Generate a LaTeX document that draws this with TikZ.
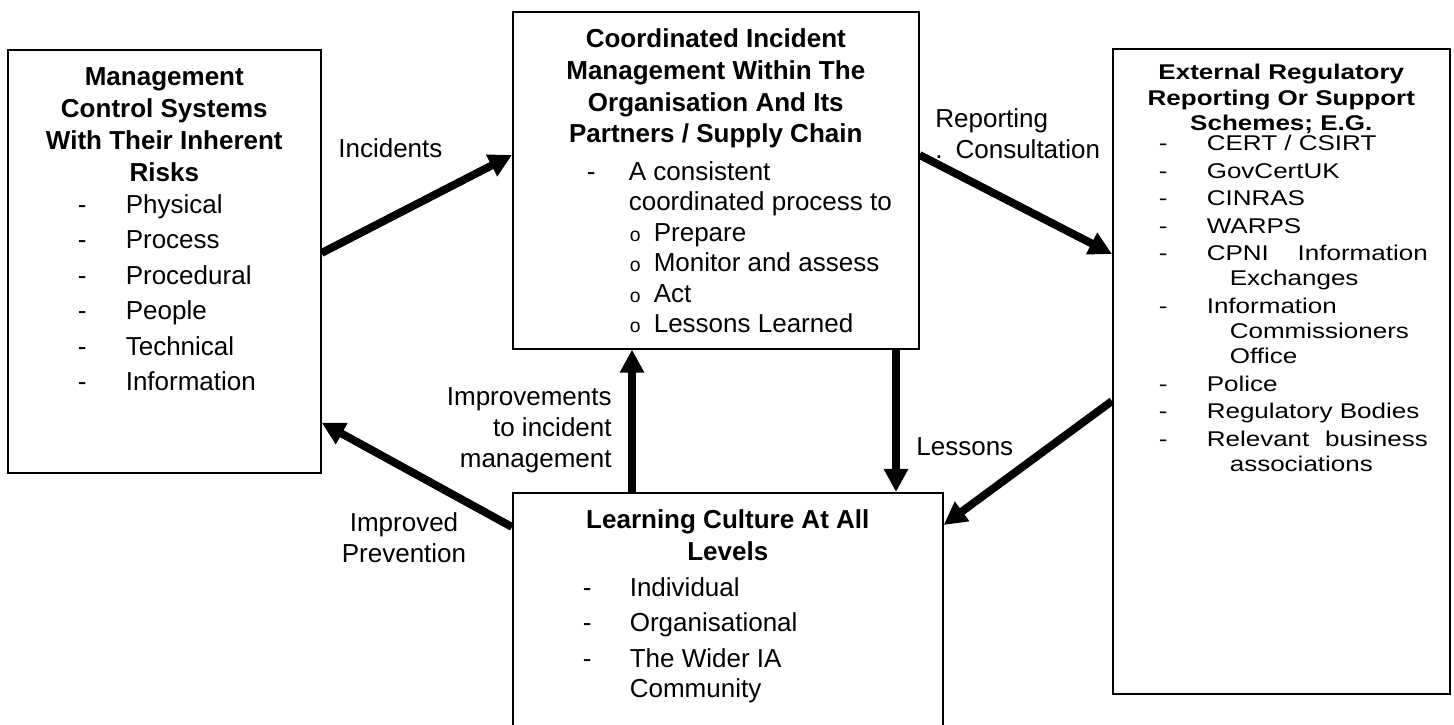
\documentclass[tikz,border=0pt]{standalone}
\usepackage{fontspec}
\setmainfont{Liberation Sans}
\usepackage{graphicx}
\usetikzlibrary{arrows.meta}

% text sizes used in the boxes
\newcommand{\headfont}[1]{\bfseries\fontsize{14.8}{#1}\selectfont}
\newcommand{\itemfont}[1]{\mdseries\fontsize{14.8}{#1}\selectfont}
% dash item: offset of the dash, gap to the text, text
\newcommand{\dashitem}[3]{\par\hspace*{#1}\makebox[#2][l]{-}#3}
% small circle item of the process list
\newcommand{\ocircitem}[1]{\hspace*{2.34cm}\makebox[0.48cm][l]{\fontsize{11}{11}\selectfont o}#1}

\begin{document}
\begin{tikzpicture}[
    box/.style={draw, line width=0.9pt, inner sep=0pt, anchor=north west},
    flow/.style={-{Triangle[length=4.6mm,width=4.6mm]}, line width=4.5pt},
    lbl/.style={inner sep=0pt, font=\itemfont{17.6}}
]
    \clip (0,0) rectangle (29.08,14.5);

    % the four boxes
    \node[box] (risks) at (0.14,13.52) {\parbox[c][8.46cm][t]{6.26cm}{%
        \centering\headfont{18.2}
        \rule{0pt}{0.72cm}Management\\Control Systems\\With Their Inherent\\Risks\par
        \vspace{-0.08cm}
        \raggedright\itemfont{20.2}
        \dashitem{1.40cm}{0.96cm}{Physical}
        \dashitem{1.40cm}{0.96cm}{Process}
        \dashitem{1.40cm}{0.96cm}{Procedural}
        \dashitem{1.40cm}{0.96cm}{People}
        \dashitem{1.40cm}{0.96cm}{Technical}
        \dashitem{1.40cm}{0.96cm}{Information}}};

    \node[box] (coord) at (10.24,14.28) {\parbox[c][6.74cm][t]{8.12cm}{%
        \centering\headfont{18}
        \rule{0pt}{0.72cm}Coordinated Incident\\Management Within The\\Organisation And Its\\Partners / Supply Chain\par
        \vspace{0.15cm}
        \raggedright\itemfont{17.3}
        \dashitem{1.48cm}{0.84cm}{A consistent}\\
        \hspace*{2.32cm}coordinated process to\\
        \ocircitem{Prepare}\\
        \ocircitem{Monitor and assess}\\
        \ocircitem{Act}\\
        \ocircitem{Lessons Learned}}};

    \node[box] (ext) at (22.24,13.54) {\scalebox{1}[0.82]{\parbox[c][15.73cm][t]{6.74cm}{%
        \centering\headfont{17.6}
        \rule{0pt}{0.76cm}External Regulatory\\Reporting Or Support\\Schemes; E.G.\par
        \vspace{-0.18cm}
        \raggedright\itemfont{19.1}
        \dashitem{0.92cm}{0.96cm}{CERT / CSIRT}
        \dashitem{0.92cm}{0.96cm}{GovCertUK}
        \dashitem{0.92cm}{0.96cm}{CINRAS}
        \dashitem{0.92cm}{0.96cm}{WARPS}
        \dashitem{0.92cm}{0.96cm}{\makebox[4.42cm][s]{CPNI\hfill Information}}\\[-0.06cm]
        \hspace*{2.34cm}Exchanges
        \dashitem{0.92cm}{0.96cm}{Information}\\[-0.06cm]
        \hspace*{2.34cm}Commissioners\\[-0.06cm]
        \hspace*{2.34cm}Office
        \dashitem{0.92cm}{0.96cm}{Police}
        \dashitem{0.92cm}{0.96cm}{Regulatory Bodies}
        \dashitem{0.92cm}{0.96cm}{\makebox[4.42cm][s]{Relevant\hfill business}}\\[-0.06cm]
        \hspace*{2.34cm}associations}}};

    \node[box] (learn) at (10.24,4.66) {\parbox[c][5.40cm][t]{8.60cm}{%
        \centering\headfont{18.2}
        \rule{0pt}{0.72cm}Learning Culture At All\\Levels\par
        \raggedright\itemfont{20.2}
        \dashitem{1.40cm}{0.94cm}{Individual}
        \dashitem{1.40cm}{0.94cm}{Organisational}
        \dashitem{1.40cm}{0.94cm}{The Wider IA}\\[-0.1cm]
        \hspace*{2.34cm}Community}};

    % flows between the boxes
    \draw[flow] ([yshift=-4.08cm]risks.north east) -- ([yshift=-2.88cm]coord.north west);
    \draw[flow] ([yshift=-2.88cm]coord.north east) -- ([yshift=-4.12cm]ext.north west);
    \draw[flow] ([xshift=7.68cm]coord.south west) -- ([xshift=7.68cm]learn.north west);
    \draw[flow] ([yshift=-7.06cm]ext.north west) -- ([yshift=-0.66cm]learn.north east);
    \draw[flow] ([xshift=2.40cm]learn.north west) -- ([xshift=2.40cm]coord.south west);
    \draw[flow] ([yshift=-0.70cm]learn.north west) -- ([yshift=1.02cm]risks.south east);

    % flow labels
    \node[lbl, anchor=base west] (incidents) at (6.76,11.34) {Incidents};
    \node[lbl, align=left, anchor=north west] (reporting) at (18.70,12.34) {Reporting\\.\hspace{0.26cm}Consultation};
    \node[lbl, align=right, anchor=north east] (improve) at (12.24,6.76) {Improvements\\to incident\\management};
    \node[lbl, anchor=north west] (lessons) at (18.32,5.76) {Lessons};
    \node[lbl, align=center, anchor=north] (prevent) at (8.08,4.26) {Improved\\Prevention};
\end{tikzpicture}
\end{document}
